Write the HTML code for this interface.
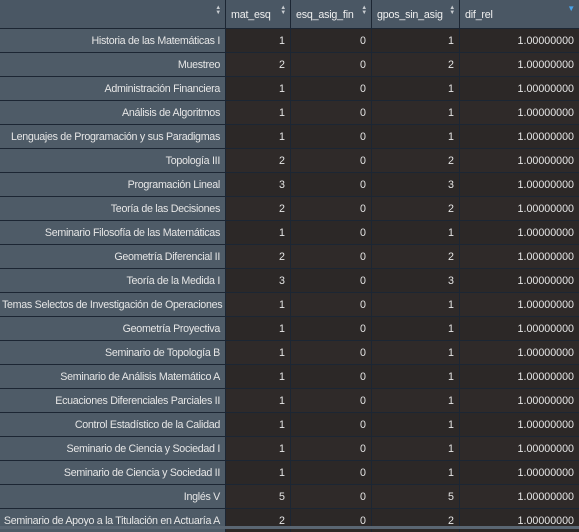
<!DOCTYPE html>
<html><head><meta charset="utf-8"><style>
body{margin:0;width:579px;height:529px;overflow:hidden;background:#1c2633;font-family:"Liberation Sans",sans-serif;font-size:10.7px;color:#e6e6e6;position:relative}
.c{position:absolute;height:23px;line-height:24px;text-align:right;white-space:nowrap;overflow:hidden;box-sizing:border-box;padding:0 5px 0 2px}
.n{letter-spacing:-0.3px}
.h{position:absolute;top:0;height:28px;line-height:30px;background:#4a5764;color:#f0f0f0;box-sizing:border-box;padding:0 5px;white-space:nowrap;letter-spacing:-0.2px}
.s{position:absolute;right:4px;top:6px;font-size:6px;color:#c8ccd0;line-height:5px}
.n{background:#4e5b67}
.d{background:#2f2a29}
.d.o{background:#2c2827}
#bar{position:absolute;left:0;top:526px;width:579px;height:3px;background:#5a6672}
</style></head><body>
<div id="wrap"></div>
<div id="bar"></div>
<script>
const names=["Historia de las Matemáticas I","Muestreo","Administración Financiera","Análisis de Algoritmos","Lenguajes de Programación y sus Paradigmas","Topología III","Programación Lineal","Teoría de las Decisiones","Seminario Filosofía de las Matemáticas","Geometría Diferencial II","Teoría de la Medida I","Temas Selectos de Investigación de Operaciones","Geometría Proyectiva","Seminario de Topología B","Seminario de Análisis Matemático A","Ecuaciones Diferenciales Parciales II","Control Estadístico de la Calidad","Seminario de Ciencia y Sociedad I","Seminario de Ciencia y Sociedad II","Inglés V","Seminario de Apoyo a la Titulación en Actuaría A"];
const matEsq=[1,2,1,1,1,2,3,2,1,2,3,1,1,1,1,1,1,1,1,5,2];
const esqAsig=[0,0,0,0,0,0,0,0,0,0,0,0,0,0,0,0,0,0,0,0,0];
const gpos=[1,2,1,1,1,2,3,2,1,2,3,1,1,1,1,1,1,1,1,5,2];
const difRel=[1,1,1,1,1,1,1,1,1,1,1,1,1,1,1,1,1,1,1,1,1];
const headers=["","mat_esq","esq_asig_fin","gpos_sin_asig","dif_rel"];
const xs=[0,226,291,372,460,580];
const wrap=document.getElementById('wrap');
const hn=['row-name-header','mat-esq-header','esq-asig-fin-header','gpos-sin-asig-header','dif-rel-header'];
headers.forEach((t,j)=>{
  const h=document.createElement('div');
  h.className='h';
  h.style.left=xs[j]+'px';h.style.width=(xs[j+1]-xs[j]-1)+'px';
  h.textContent=t;
  const s=document.createElement('span');
  s.className='s';
  if(j===4){s.textContent='▼';s.style.color='#4aa3e8';s.style.fontSize='8px';}
  else s.innerHTML='▲<br>▼';
  h.appendChild(s);
  
  
  wrap.appendChild(h);
});
const cn=['row-name-cell','mat-esq-cell','esq-asig-fin-cell','gpos-sin-asig-cell','dif-rel-cell'];
names.forEach((n,i)=>{
  const vals=[n,matEsq[i],esqAsig[i],gpos[i],difRel[i].toFixed(8)];
  const y=29+i*24;
  vals.forEach((v,j)=>{
    const c=document.createElement('div');
    c.className='c '+(j?'d':'n')+(i%2?'':' o');
    c.style.left=xs[j]+'px';c.style.top=y+'px';
    c.style.width=(xs[j+1]-xs[j]-1)+'px';
    c.textContent=v;
    
    
    wrap.appendChild(c);
  });
});
</script>
</body></html>
